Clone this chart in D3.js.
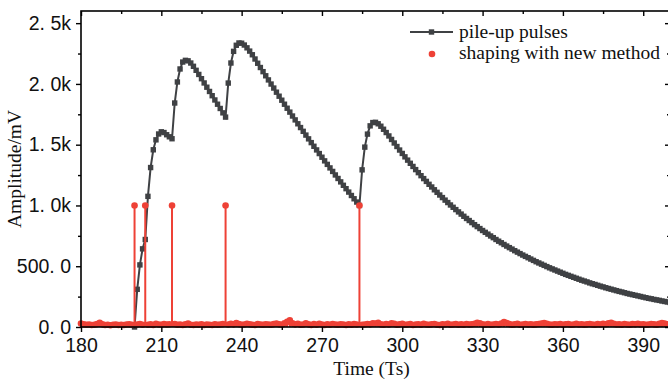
<!DOCTYPE html>
<html>
<head>
<meta charset="utf-8">
<script src="https://cdn.jsdelivr.net/npm/d3@7"></script>
<style>
  html, body { margin: 0; padding: 0; background: #fff; }
  svg { display: block; font-family: 'Liberation Serif', 'Times New Roman', serif; }
</style>
</head>
<body>
<div id="chart"></div>
<script>
// sample index -> time (Ts)
const noiseStart = 180;
const pulseStart = 200;

// pile-up pulses, one value per Ts from 200 to 400 (mV)
const pileUp = [
  0, 310, 511, 643, 720, 1075, 1312, 1458, 1540, 1588,
  1606, 1600, 1582, 1565, 1549, 1843, 2016, 2123, 2180, 2194,
  2190, 2172, 2145, 2112, 2078, 2043, 2008, 1973, 1938, 1903,
  1868, 1833, 1798, 1762, 1727, 2007, 2172, 2268, 2318, 2337,
  2335, 2320, 2297, 2270, 2240, 2205, 2170, 2135, 2101, 2067,
  2033, 1999, 1966, 1932, 1899, 1866, 1833, 1800, 1768, 1736,
  1704, 1672, 1641, 1610, 1579, 1548, 1517, 1487, 1457, 1427,
  1397, 1367, 1338, 1309, 1280, 1251, 1222, 1194, 1166, 1138,
  1110, 1082, 1055, 1028, 1000, 1293, 1480, 1587, 1655, 1682,
  1684, 1672, 1652, 1627, 1600, 1572, 1543, 1514, 1485, 1456,
  1428, 1400, 1373, 1347, 1321, 1295, 1270, 1245, 1221, 1198,
  1174, 1152, 1129, 1108, 1086, 1065, 1044, 1024, 1004, 985,
  966, 947, 929, 911, 893, 876, 859, 842, 826, 810,
  794, 779, 764, 749, 735, 720, 706, 693, 679, 666,
  653, 641, 628, 616, 604, 592, 581, 570, 559, 548,
  537, 527, 517, 507, 497, 487, 478, 469, 460, 451,
  442, 433, 425, 417, 409, 401, 393, 385, 378, 371,
  363, 356, 350, 343, 336, 330, 323, 317, 311, 305,
  299, 293, 288, 282, 276, 271, 266, 261, 256, 251,
  246, 241, 236, 232, 227, 223, 219, 214, 210, 206,
  202
];

// shaping with new method, one value per Ts from 180 to 400 (mV)
const shaped = [
  28, 22, 18, 20, 16, 19, 24, 34, 22, 17,
  19, 15, 18, 21, 16, 19, 17, 20, 22, 18,
  1000, 20, 25, 18, 1000, 19, 22, 17, 26, 21,
  18, 24, 20, 23, 1000, 25, 18, 21, 17, 22,
  28, 19, 16, 20, 18, 23, 17, 21, 19, 16,
  22, 18, 20, 24, 1000, 20, 26, 22, 32, 24,
  18, 21, 27, 23, 19, 17, 25, 21, 18, 22,
  20, 19, 24, 28, 22, 19, 30, 42, 55, 31,
  22, 27, 18, 21, 30, 22, 17, 24, 19, 26,
  20, 17, 23, 19, 25, 21, 18, 22, 20, 17,
  23, 19, 24, 20, 1000, 18, 21, 25, 22, 30,
  28, 34, 22, 18, 25, 20, 31, 26, 19, 22,
  27, 18, 21, 24, 17, 20, 23, 19, 26, 21,
  18, 22, 25, 19, 17, 23, 20, 26, 18, 21,
  24, 19, 22, 18, 25, 20, 23, 27, 34, 30,
  22, 19, 24, 18, 21, 25, 20, 28, 40, 33,
  24, 19, 22, 26, 18, 21, 24, 20, 23, 19,
  22, 25, 28, 32, 26, 20, 18, 23, 21, 25,
  19, 22, 24, 18, 21, 26, 20, 23, 19, 22,
  25, 20, 18, 24, 21, 27, 23, 30, 34, 26,
  20, 22, 18, 25, 21, 19, 24, 22, 27, 20,
  23, 19, 21, 25, 22, 18, 26, 32, 28, 22,
  20
];

const xTicks = [180, 210, 240, 270, 300, 330, 360, 390];
const xMinor = [195, 225, 255, 285, 315, 345, 375];
const yTicks = [0, 500, 1000, 1500, 2000, 2500];
const yMinor = [250, 750, 1250, 1750, 2250];
const seriesNames = ['pile-up pulses', 'shaping with new method'];

const W = 668, H = 380;
const margin = {top: 11, right: -2, bottom: 53, left: 81};
const width = W - margin.left - margin.right;
const height = H - margin.top - margin.bottom;

const gray = '#3f4144';
const red = '#ee4136';
const fontSize = '19.5px';

const svg = d3.select('#chart')
  .append('svg')
  .attr('width', W)
  .attr('height', H);

const g = svg.append('g')
  .attr('transform', `translate(${margin.left},${margin.top})`);

const x = d3.scaleLinear().domain([180, 400]).range([0, width]);
const y = d3.scaleLinear().domain([0, 2600]).range([height, 0]);

const fmt = d => (d >= 1000 ? (d / 1000).toFixed(1) + 'k' : d.toFixed(1)).replace('.', '. ');

const pulseData = pileUp.map((v, i) => ({t: pulseStart + i, v}));
const shapedData = shaped.map((v, i) => ({t: noiseStart + i, v}));

// black series: line + square markers
g.append('path')
  .datum(pulseData)
  .attr('fill', 'none')
  .attr('stroke', gray)
  .attr('stroke-width', 2)
  .attr('d', d3.line().x(d => x(d.t)).y(d => y(d.v)));

g.selectAll('.sq')
  .data(pulseData)
  .enter()
  .append('rect')
  .attr('class', 'sq')
  .attr('x', d => x(d.t) - 2.7)
  .attr('y', d => y(d.v) - 2.7)
  .attr('width', 5.4)
  .attr('height', 5.4)
  .attr('fill', gray);

// red series: drop lines + dots
g.selectAll('.stem')
  .data(shapedData)
  .enter()
  .append('line')
  .attr('class', 'stem')
  .attr('x1', d => x(d.t))
  .attr('x2', d => x(d.t))
  .attr('y1', y(0))
  .attr('y2', d => y(d.v))
  .attr('stroke', red)
  .attr('stroke-width', 2);

g.selectAll('.dot')
  .data(shapedData)
  .enter()
  .append('circle')
  .attr('class', 'dot')
  .attr('cx', d => x(d.t))
  .attr('cy', d => y(d.v))
  .attr('r', 3.3)
  .attr('fill', red);

// axes
const styleAxis = sel => {
  sel.select('.domain').remove();
  sel.selectAll('.tick line').attr('stroke', '#000').attr('stroke-width', 1.4);
  sel.selectAll('.tick text').attr('fill', '#111').style('font-size', fontSize);
};

g.append('g')
  .attr('transform', `translate(0,${height})`)
  .call(d3.axisBottom(x).tickValues(xTicks).tickFormat(d3.format('d')).tickSize(5).tickPadding(6))
  .call(styleAxis);
g.append('g')
  .attr('transform', `translate(0,${height})`)
  .call(d3.axisBottom(x).tickValues(xMinor).tickFormat('').tickSize(3))
  .call(styleAxis);

g.append('g')
  .call(d3.axisLeft(y).tickValues(yTicks).tickFormat(fmt).tickSize(5).tickPadding(5))
  .call(styleAxis);
g.append('g')
  .call(d3.axisLeft(y).tickValues(yMinor).tickFormat('').tickSize(3))
  .call(styleAxis);

// top and right: inward ticks
g.append('g')
  .call(d3.axisBottom(x).tickValues(xTicks).tickFormat('').tickSize(5))
  .call(styleAxis);
g.append('g')
  .call(d3.axisBottom(x).tickValues(xMinor).tickFormat('').tickSize(3))
  .call(styleAxis);
g.append('g')
  .attr('transform', `translate(${width},0)`)
  .call(d3.axisLeft(y).tickValues(yTicks).tickFormat('').tickSize(5))
  .call(styleAxis);
g.append('g')
  .attr('transform', `translate(${width},0)`)
  .call(d3.axisLeft(y).tickValues(yMinor).tickFormat('').tickSize(3))
  .call(styleAxis);

// frame
g.append('rect')
  .attr('width', width)
  .attr('height', height)
  .attr('fill', 'none')
  .attr('stroke', '#000')
  .attr('stroke-width', 1.6);

// axis titles
svg.append('text')
  .attr('x', margin.left + width / 2 - 4)
  .attr('y', 375)
  .attr('text-anchor', 'middle')
  .style('font-size', fontSize)
  .attr('fill', '#111')
  .text('Time (Ts)');

svg.append('text')
  .attr('transform', `translate(21,${margin.top + height / 2}) rotate(-90)`)
  .attr('text-anchor', 'middle')
  .style('font-size', fontSize)
  .attr('fill', '#111')
  .text('Amplitude/mV');

// legend
const legend = svg.append('g').attr('transform', 'translate(410,0)');
legend.append('line')
  .attr('x1', 0).attr('x2', 43)
  .attr('y1', 32).attr('y2', 32)
  .attr('stroke', gray)
  .attr('stroke-width', 2);
legend.append('rect')
  .attr('x', 18.8).attr('y', 29.3)
  .attr('width', 5.4).attr('height', 5.4)
  .attr('fill', gray);
legend.append('circle')
  .attr('cx', 22).attr('cy', 54)
  .attr('r', 3.3)
  .attr('fill', red);
legend.selectAll('.lt')
  .data(seriesNames)
  .enter()
  .append('text')
  .attr('class', 'lt')
  .attr('x', 49)
  .attr('y', (d, i) => 37.5 + i * 21.5)
  .style('font-size', fontSize)
  .attr('fill', '#111')
  .text(d => d);
</script>
</body>
</html>
